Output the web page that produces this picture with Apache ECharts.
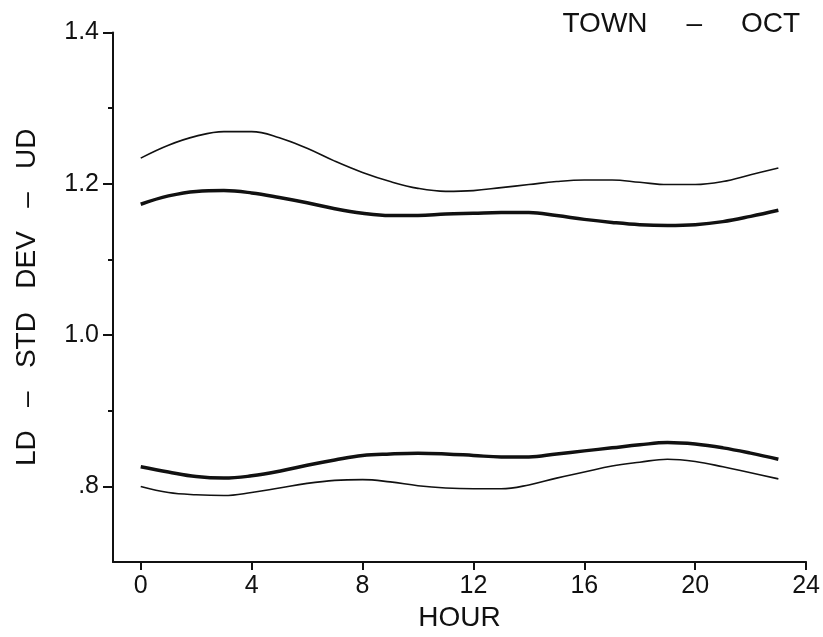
<!DOCTYPE html>
<html>
<head>
<meta charset="utf-8">
<script src="https://cdn.jsdelivr.net/npm/echarts@6/dist/echarts.min.js"></script>
<style>
html,body{margin:0;padding:0;background:#fff;}
#chart{width:823px;height:637px;}
</style>
</head>
<body>
<div id="chart"></div>
<script>
const hours = [0,1,2,3,4,5,6,7,8,9,10,11,12,13,14,15,16,17,18,19,20,21,22,23];
const udUpper = [1.234,1.251,1.263,1.269,1.269,1.261,1.247,1.230,1.215,1.203,1.194,1.190,1.191,1.195,1.199,1.203,1.205,1.205,1.202,1.199,1.199,1.203,1.212,1.221];
const udMean  = [1.173,1.184,1.190,1.191,1.188,1.182,1.175,1.167,1.161,1.158,1.158,1.160,1.161,1.162,1.162,1.158,1.153,1.149,1.146,1.145,1.146,1.150,1.157,1.165];
const ldMean  = [0.826,0.819,0.813,0.811,0.814,0.820,0.828,0.835,0.841,0.843,0.844,0.843,0.841,0.839,0.839,0.843,0.847,0.851,0.855,0.858,0.856,0.851,0.844,0.836];
const ldLower = [0.800,0.792,0.789,0.788,0.792,0.798,0.804,0.808,0.809,0.806,0.801,0.798,0.797,0.797,0.802,0.811,0.819,0.827,0.832,0.836,0.833,0.826,0.818,0.810];
const xTicks = [0,4,8,12,16,20,24];
const yTicks = [0.8,1.0,1.2,1.4];
const yMinorTicks = [0.9,1.1,1.3];

const FONT = '"Liberation Sans", Arial, Helvetica, sans-serif';
const INK = '#111';
const pairs = arr => hours.map((h,i)=>[h,arr[i]]);

const chart = echarts.init(document.getElementById('chart'), null, {renderer:'canvas'});
function line(name, arr, w){
  return {name, type:'line', data:pairs(arr), smooth:0.4, symbol:'none',
    lineStyle:{color:INK, width:w}, yAxisIndex:0, z:3};
}
chart.setOption({
  animation:false,
  backgroundColor:'#fff',
  title:{text:'TOWN     \u2013     OCT', right:18, top:5,
    textStyle:{fontFamily:FONT, fontSize:28, fontWeight:'normal', color:INK}},
  grid:{left:113, right:15, top:32.5, bottom:74, containLabel:false},
  xAxis:{type:'value', min:-1, max:24,
    name:'HOUR', nameLocation:'middle', nameGap:40,
    nameTextStyle:{fontFamily:FONT, fontSize:28, color:INK},
    axisLine:{show:true, onZero:false, lineStyle:{color:INK, width:2}},
    axisTick:{show:true, customValues:xTicks, length:8, lineStyle:{color:INK, width:2}},
    axisLabel:{customValues:xTicks, margin:12, fontFamily:FONT, fontSize:25, color:INK},
    splitLine:{show:false}},
  yAxis:[{type:'value', min:0.7, max:1.4, position:'left', offset:0,
    name:'LD   \u2013   STD   DEV   \u2013   UD', nameLocation:'middle', nameGap:72,
    nameTextStyle:{fontFamily:FONT, fontSize:28, color:INK},
    axisLine:{show:true, onZero:false, lineStyle:{color:INK, width:2}},
    axisTick:{show:true, customValues:yTicks, length:10, lineStyle:{color:INK, width:2}},
    axisLabel:{customValues:yTicks, margin:14, fontFamily:FONT, fontSize:25, color:INK,
      formatter:v => (Math.abs(v-0.8)<1e-9 ? '.8' : v.toFixed(1))},
    splitLine:{show:false}},
   {type:'value', min:0.7, max:1.4, position:'left', offset:0,
    axisLine:{show:false, onZero:false},
    axisTick:{show:true, customValues:yMinorTicks, length:5, lineStyle:{color:INK, width:2}},
    axisLabel:{show:false},
    splitLine:{show:false}}],
  series:[
    line('UD upper', udUpper, 1.6),
    line('UD mean', udMean, 3.5),
    line('LD mean', ldMean, 3.5),
    line('LD lower', ldLower, 1.6)
  ]
});
</script>
</body>
</html>
